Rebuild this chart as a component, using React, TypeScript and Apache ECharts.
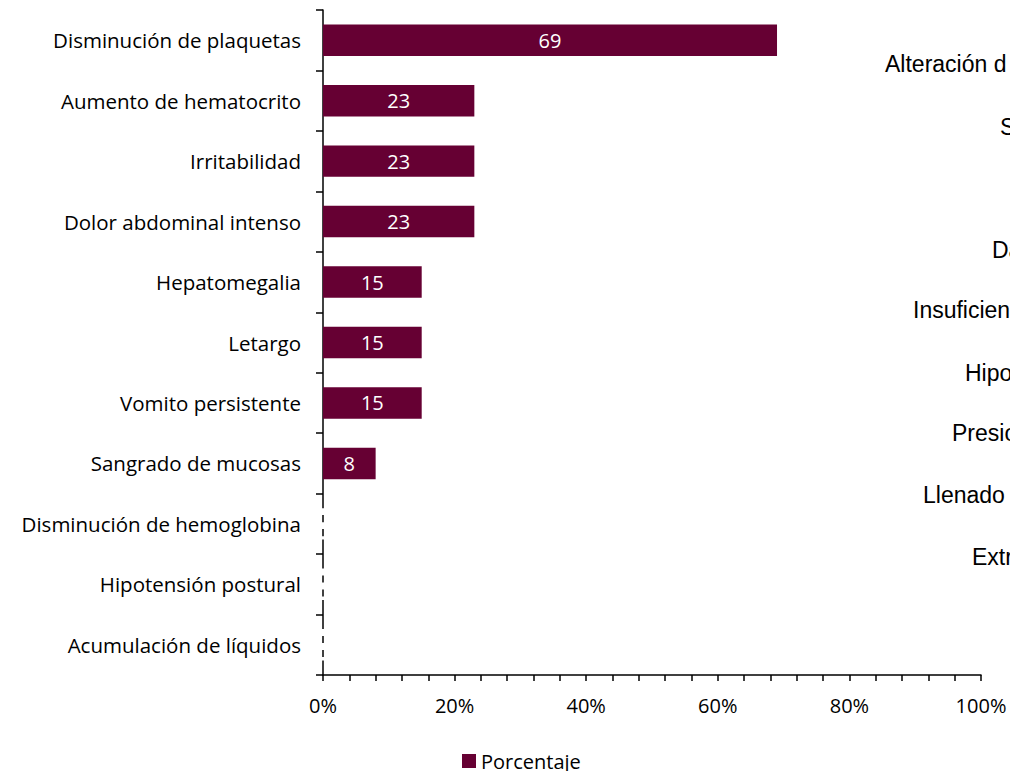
import React, { useEffect, useRef } from "react";
import * as echarts from "echarts";

const categories = [
  "Disminución de plaquetas",
  "Aumento de hematocrito",
  "Irritabilidad",
  "Dolor abdominal intenso",
  "Hepatomegalia",
  "Letargo",
  "Vomito persistente",
  "Sangrado de mucosas",
  "Disminución de hemoglobina",
  "Hipotensión postural",
  "Acumulación de líquidos",
];
const porcentaje = [69, 23, 23, 23, 15, 15, 15, 8, 0, 0, 0];
const seriesName = "Porcentaje";
const xTicks = [0, 20, 40, 60, 80, 100];
// Fragments of a neighbouring chart's labels, clipped by the page edge
const sideLabels = ["Alteración d", "S", "Da", "Insuficien", "Hipo", "Presio", "Llenado", "Extr"];
const sideLabelPos: [number, number][] = [
  [885, 64],
  [1000, 127],
  [992, 250],
  [913, 310],
  [965, 373],
  [952, 433],
  [923, 495],
  [972, 557],
];

const BAR = "#660033";
const LABEL_FONT = "'Open Sans', sans-serif";

export default function App() {
  const ref = useRef<HTMLDivElement>(null);
  useEffect(() => {
    if (!ref.current) return;
    const chart = echarts.init(ref.current, undefined, { renderer: "svg" });
    chart.setOption({
      animation: false,
      backgroundColor: "#fff",
      grid: { left: 323, top: 10, width: 658, height: 665, containLabel: false },
      legend: {
        data: [seriesName],
        left: 457,
        top: 746,
        itemWidth: 14,
        itemHeight: 14,
        itemGap: 10,
        icon: "rect",
        textStyle: { fontFamily: LABEL_FONT, fontSize: 20, color: "#000", padding: [0, 0, 4, 0] },
      },
      xAxis: {
        type: "value",
        min: xTicks[0],
        max: xTicks[xTicks.length - 1],
        interval: 20,
        axisLine: { show: true, lineStyle: { color: "#000", width: 1.5 } },
        axisTick: { show: true, length: 6, lineStyle: { color: "#000", width: 1.5 } },
        minorTick: { show: true, splitNumber: 5, length: 6, lineStyle: { color: "#000", width: 1.5 } },
        splitLine: { show: false },
        axisLabel: {
          formatter: "{value}%",
          margin: 20,
          fontFamily: LABEL_FONT,
          fontSize: 20,
          color: "#000",
        },
      },
      yAxis: {
        type: "category",
        data: categories,
        inverse: true,
        axisLine: { show: true, lineStyle: { color: "#000", width: 1.5 } },
        axisTick: { show: true, length: 7, lineStyle: { color: "#000", width: 1.5 } },
        axisLabel: {
          margin: 22,
          fontFamily: LABEL_FONT,
          fontSize: 20.5,
          color: "#000",
        },
      },
      series: [
        {
          name: seriesName,
          type: "bar",
          barCategoryGap: "48%",
          itemStyle: { color: BAR },
          label: {
            show: true,
            position: "inside",
            color: "#fff",
            fontFamily: LABEL_FONT,
            fontSize: 20,
            formatter: (p: any) => (p.value > 0 ? String(p.value) : ""),
          },
          data: porcentaje.map((v) =>
            v > 0
              ? { value: v }
              : {
                  value: v,
                  itemStyle: { color: BAR, borderColor: "#fff", borderWidth: 2, borderType: [6, 8] },
                }
          ),
        },
      ],
      graphic: sideLabels.map((t, i) => ({
        type: "text",
        x: sideLabelPos[i][0],
        y: sideLabelPos[i][1],
        style: {
          text: t,
          fill: "#000",
          font: "23px 'Liberation Sans', Arial, sans-serif",
          textVerticalAlign: "middle",
          textAlign: "left",
        },
      })),
    });
    return () => chart.dispose();
  }, []);
  return (
    <div
      ref={ref}
      style={{ position: "fixed", left: 0, top: 0, width: 1010, height: 771, overflow: "hidden" }}
    />
  );
}
